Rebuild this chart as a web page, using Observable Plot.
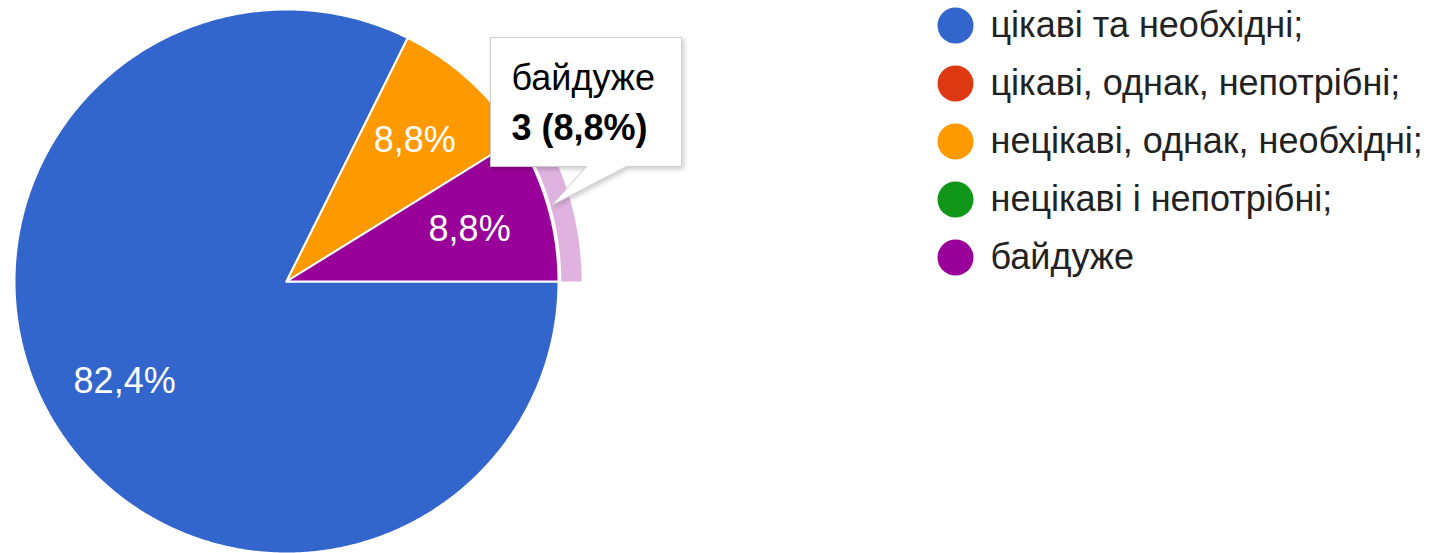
<!DOCTYPE html>
<html><head><meta charset="utf-8">
<script src="https://cdn.jsdelivr.net/npm/d3@7"></script>
<script src="https://cdn.jsdelivr.net/npm/@observablehq/plot@0.6"></script>
<style>
body{margin:0;background:#fff;font-family:"Liberation Sans",Arial,sans-serif;}
#wrap{position:relative;width:1441px;height:553px;overflow:hidden;}
#wrap > svg{position:absolute;left:0;top:0;}
#legend{position:absolute;left:920px;top:0;}
</style></head><body><div id="wrap"><div id="legend"></div></div>
<script>
// ---- data ----
const categories = ["цікаві та необхідні;", "цікаві, однак, непотрібні;", "нецікаві, однак, необхідні;", "нецікаві і непотрібні;", "байдуже"];
const counts = [28, 0, 3, 0, 3];
const colors = ["#3366cc", "#dc3912", "#ff9900", "#109618", "#990099"];
const highlighted = "байдуже";

// ---- layout ----
const W = 1441, H = 553, R = 272, CX = 286, CY = 281;
const startAngle = 90; // degrees clockwise from 12 o'clock
const FONT = "Liberation Sans, Arial, sans-serif";

const total = d3.sum(counts);
const pct = v => (v / total * 100).toFixed(1).replace(".", ",") + "%";

let acc = startAngle;
const slices = categories.map((c, i) => {
  const a0 = acc, a1 = acc + counts[i] / total * 360; acc = a1;
  return {cat: c, count: counts[i], a0, a1, mid: (a0 + a1) / 2};
}).filter(s => s.count > 0);

const pt = (a, r) => { const t = a * Math.PI / 180; return [r * Math.sin(t), r * Math.cos(t)]; };
function wedge(s, r0, r1) {
  const n = Math.max(2, Math.ceil((s.a1 - s.a0) / 0.4));
  const rows = [];
  if (r0 === 0) rows.push({x: 0, y: 0, cat: s.cat});
  for (let k = 0; k <= n; k++) { const [x, y] = pt(s.a0 + (s.a1 - s.a0) * k / n, r1); rows.push({x, y, cat: s.cat}); }
  if (r0 > 0) for (let k = n; k >= 0; k--) { const [x, y] = pt(s.a0 + (s.a1 - s.a0) * k / n, r0); rows.push({x, y, cat: s.cat}); }
  return rows;
}
const piePts = slices.flatMap(s => wedge(s, 0, 1));
const hi = slices.find(s => s.cat === highlighted);
const ringPts = wedge(hi, 1.01, 1.085);

const plot = Plot.plot({
  width: W, height: H, margin: 0,
  style: {fontFamily: FONT, background: "transparent"},
  x: {domain: [-CX / R, (W - CX) / R], axis: null},
  y: {domain: [-(H - CY) / R, CY / R], axis: null},
  color: {domain: categories, range: colors},
  marks: [
    Plot.line(ringPts, {x: "x", y: "y", z: "cat", fill: "cat", fillOpacity: 0.3, stroke: "none", curve: "linear-closed"}),
    Plot.line(piePts, {x: "x", y: "y", z: "cat", fill: "cat", stroke: "white", strokeWidth: 2, curve: "linear-closed"}),
    Plot.text(slices, {x: d => pt(d.mid, 0.7)[0], y: d => pt(d.mid, 0.7)[1], text: d => pct(d.count),
      fill: "white", fontSize: 36, fontFamily: FONT})
  ]
});
document.getElementById("wrap").prepend(plot);

// ---- tooltip anchored on the highlighted slice ----
const sx = plot.scale("x"), sy = plot.scale("y");
const [tx, ty] = pt(hi.mid, 1.015);
const px = sx.apply(tx), py = sy.apply(ty);
const bx = px - 61, by = py - 168, bw = 191, bh = 129;
const svg = d3.select(plot);
const defs = svg.append("defs");
const f = defs.append("filter").attr("id", "shadow").attr("x", "-20%").attr("y", "-20%").attr("width", "140%").attr("height", "140%");
f.append("feDropShadow").attr("dx", 2).attr("dy", 2).attr("stdDeviation", 2.5).attr("flood-color", "#000").attr("flood-opacity", 0.22);
const g = svg.append("g").attr("text-anchor", "start");
g.append("path")
  .attr("d", `M${bx},${by}H${bx + bw}V${by + bh}H${px + 75}L${px},${py}L${px + 35},${by + bh}H${bx}Z`)
  .attr("fill", "white").attr("stroke", "#cccccc").attr("stroke-width", 1).attr("filter", "url(#shadow)");
g.append("text").attr("x", bx + 21).attr("y", by + 53).attr("font-size", 36).attr("font-family", FONT)
  .attr("text-anchor", "start").attr("fill", "#000").text(hi.cat);
g.append("text").attr("x", bx + 21).attr("y", by + 103).attr("font-size", 36).attr("font-family", FONT)
  .attr("text-anchor", "start").attr("font-weight", "bold").attr("fill", "#000").text(`${hi.count} (${pct(hi.count)})`);

// ---- legend ----
const legend = Plot.plot({
  width: 521, height: 290, margin: 0,
  style: {fontFamily: FONT, background: "transparent"},
  x: {axis: null},
  y: {type: "point", domain: categories, range: [25, 257], padding: 0, axis: null},
  color: {domain: categories, range: colors},
  marks: [
    Plot.dot(categories, {y: d => d, fill: d => d, r: 18, frameAnchor: "left", dx: 35}),
    Plot.text(categories, {y: d => d, text: d => d, frameAnchor: "left", dx: 70, textAnchor: "start",
      fontSize: 36, fill: "#222", fontFamily: FONT})
  ]
});
document.getElementById("legend").append(legend);
</script>
</body></html>
